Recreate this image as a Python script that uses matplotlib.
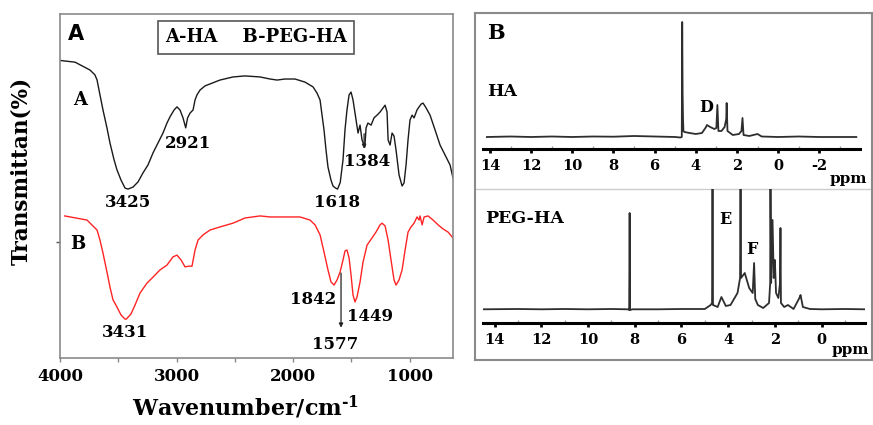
import matplotlib
matplotlib.use("Agg")
import matplotlib.pyplot as plt
from matplotlib.ticker import MultipleLocator

plt.rcParams['font.family'] = ['DejaVu Serif']
plt.rcParams['font.weight'] = 'bold'
plt.rcParams['mathtext.fontset'] = 'dejavuserif'

# FTIR spectra (wavenumber, transmittance in arbitrary offset units)
ha_wn = [4000, 3871, 3742, 3700, 3682, 3657, 3631, 3597, 3571, 3536, 3511, 3476,
         3442, 3416, 3373, 3330, 3288, 3245, 3202, 3159, 3116, 3082, 3056, 3021,
         2996, 2970, 2944, 2921, 2905, 2884, 2858, 2841, 2824, 2798, 2755, 2695,
         2627, 2515, 2412, 2283, 2197, 2137, 2069, 1983, 1897, 1828, 1794, 1768,
         1751, 1734, 1717, 1700, 1674, 1657, 1635, 1618, 1595, 1571, 1554, 1537,
         1519, 1502, 1485, 1459, 1442, 1425, 1408, 1384, 1373, 1357, 1330, 1305,
         1279, 1253, 1227, 1210, 1193, 1184, 1167, 1150, 1133, 1116, 1090, 1064,
         1047, 1030, 1013, 996, 978, 961, 936, 918, 901, 884, 858, 824, 781, 738,
         695, 652, 627]
ha_t = [86.5, 86.0, 83.7, 82.3, 80.8, 76.5, 72.1, 66.9, 62.5, 57.6, 54.7, 51.7,
        49.4, 49.1, 49.7, 51.2, 53.8, 56.1, 59.6, 62.5, 65.4, 68.3, 70.1, 72.1,
        73.0, 72.1, 69.8, 66.9, 69.8, 71.2, 72.1, 75.0, 76.5, 77.9, 79.1, 79.9,
        80.8, 81.7, 82.0, 81.7, 81.1, 80.8, 81.1, 81.1, 80.2, 78.8, 77.0, 75.0,
        70.6, 66.3, 60.5, 55.5, 51.7, 50.0, 49.4, 49.1, 51.0, 57.6, 66.3, 72.1,
        76.5, 77.3, 75.0, 69.2, 65.4, 67.7, 63.4, 61.3, 66.9, 68.3, 67.7, 69.8,
        70.6, 71.5, 72.7, 73.5, 71.5, 63.4, 61.9, 65.4, 64.5, 60.5, 53.2, 50.0,
        50.9, 56.1, 63.4, 69.2, 70.6, 69.8, 72.1, 73.0, 73.8, 74.1, 72.7, 70.6,
        66.3, 61.9, 59.0, 56.1, 52.3]

peg_wn = [3960, 3768, 3682, 3657, 3631, 3597, 3571, 3545, 3511, 3476, 3442, 3431,
          3391, 3356, 3313, 3253, 3202, 3142, 3082, 3030, 2996, 2961, 2927, 2893,
          2867, 2841, 2815, 2772, 2712, 2627, 2515, 2412, 2283, 2197, 2069, 1940,
          1854, 1811, 1768, 1734, 1700, 1674, 1648, 1622, 1596, 1571, 1554, 1537,
          1519, 1502, 1485, 1468, 1451, 1425, 1399, 1365, 1322, 1288, 1253, 1236,
          1210, 1184, 1159, 1133, 1116, 1090, 1064, 1038, 1013, 987, 961, 936,
          918, 910, 892, 875, 841, 798, 755, 712, 669, 627]
peg_t = [41.3, 40.1, 37.2, 34.3, 30.5, 25.0, 20.6, 16.9, 14.8, 12.5, 11.3, 11.3,
         12.8, 15.4, 18.9, 21.8, 23.5, 25.6, 27.0, 29.4, 29.9, 28.5, 26.5, 26.7,
         26.7, 31.4, 34.3, 35.8, 37.2, 38.1, 39.2, 40.7, 41.3, 41.0, 41.0, 41.0,
         40.1, 38.7, 35.8, 30.8, 25.6, 22.1, 21.2, 22.7, 25.0, 28.5, 31.1, 31.4,
         29.1, 24.1, 18.3, 16.3, 17.7, 22.1, 27.9, 32.8, 34.9, 36.6, 38.7, 39.2,
         38.4, 34.3, 28.5, 22.7, 21.2, 22.7, 25.6, 31.4, 36.6, 38.1, 39.2, 41.0,
         40.1, 41.3, 38.7, 41.0, 41.3, 40.1, 38.7, 37.5, 36.6, 34.9]

# peak labels: text, x, y
ha_peaks = [("3425", 3416, 45.1), ("2921", 2901, 62.5), ("1618", 1622, 45.1), ("1384", 1365, 57.0)]
peg_peaks = [("3431", 3442, 7.3), ("1842", 1828, 16.9), ("1449", 1339, 12.2), ("1577", 1639, 3.8)]

# 1H NMR spectra (ppm, intensity)
ha_ppm = [14.15, 13.0, 12.0, 11.0, 10.0, 9.0, 8.0, 7.0, 6.0, 5.0, 4.75, 4.68, 4.66,
          4.64, 4.62, 4.60, 4.55, 4.3, 4.0, 3.7, 3.5, 3.46, 3.3, 3.1, 3.0, 2.95, 2.9,
          2.75, 2.6, 2.52, 2.5, 2.46, 2.2, 1.9, 1.78, 1.73, 1.68, 1.4, 1.0, 0.8,
          0.0, -1.0, -2.0, -3.0, -3.8]
ha_int = [12, 12.5, 12, 12.5, 12, 12.5, 12.3, 13, 12.5, 12, 11.5, 12, 127,
          56, 30, 18, 17, 16, 15, 16, 22, 24, 22, 20, 21, 44, 18,
          18, 22, 30, 46, 18, 14, 15, 18, 31, 14, 13, 15, 12.5,
          12, 12.5, 12, 12, 12]

peg_ppm = [14.5, 13.0, 12.0, 11.0, 10.0, 9.0, 8.3, 8.24, 8.22, 8.20, 8.1, 7.0, 6.0,
           5.0, 4.75, 4.69, 4.67, 4.65, 4.45, 4.29, 4.1, 3.9, 3.6, 3.49, 3.47, 3.45,
           3.29, 3.1, 2.95, 2.89, 2.84, 2.73, 2.5, 2.25, 2.2, 2.19, 2.16, 2.1, 2.05,
           2.0, 1.95, 1.85, 1.78, 1.76, 1.74, 1.6, 1.44, 1.2, 0.95, 0.9, 0.8, 0.5,
           0.0, -1.0, -1.86]
peg_int = [13.7, 14, 13.7, 14, 13.7, 14, 13.7, 13, 110, 13, 13.7, 13.7, 14,
           14, 18, 20, 160, 18, 16, 26, 17, 18, 30, 45, 160, 45,
           50, 35, 30, 60, 24, 18, 15, 20, 40, 160, 40, 103, 45,
           63, 30, 25, 40, 95, 20, 16, 18, 14, 25, 28, 16, 14,
           13.7, 14, 13.7]

W, H = 873, 425
fig = plt.figure(figsize=(W / 100, H / 100), dpi=100)

# ---------- panel A: FTIR ----------
ax = fig.add_axes([60 / W, 67 / H, 393 / W, 344 / H])
ax.plot(ha_wn, ha_t, color='#1a1a1a', lw=1.0)
ax.plot(peg_wn, peg_t, color='#ff2424', lw=1.0)
ax.set_xlim(4000, 627)
ax.set_ylim(0, 100)
ax.xaxis.set_major_locator(MultipleLocator(1000))
ax.xaxis.set_minor_locator(MultipleLocator(500))
ax.set_yticks([33.7])
ax.set_yticklabels([])
ax.tick_params(axis='x', which='both', direction='out', length=3, width=1,
               color='#888888', labelsize=12, pad=4)
ax.tick_params(axis='y', direction='out', length=3, width=1, color='#555555')
for sp in ax.spines.values():
    sp.set_color('#8a8a8a')
    sp.set_linewidth(1.2)
for lab in ax.get_xticklabels():
    lab.set_fontweight('bold')

ax.set_xlabel('Wavenumber/cm$^{\\text{-}\\mathbf{1}}$', fontsize=16, fontweight='bold')
ax.xaxis.set_label_coords(0.471, -0.105)
ax.set_ylabel('Transmittan(%)', fontsize=15.5, fontweight='bold')
ax.yaxis.set_label_coords(-0.07, 0.544)

for txt, x, y in ha_peaks + peg_peaks:
    ax.text(x, y, txt, fontsize=12, fontweight='bold', ha='center', va='center')
ax.annotate('', xy=(1588, 8.0), xytext=(1588, 25.5),
            arrowprops=dict(arrowstyle='-|>', color='#222222', lw=0.9,
                            mutation_scale=6))
ax.annotate('', xy=(1390, 60.0), xytext=(1390, 66.0),
            arrowprops=dict(arrowstyle='-|>', color='#222222', lw=0.9,
                            mutation_scale=6))
ax.text(3828, 75.0, 'A', fontsize=13, fontweight='bold', ha='center', va='center')
ax.text(3845, 33.1, 'B', fontsize=13, fontweight='bold', ha='center', va='center')
ax.text(0.041, 0.942, 'A', transform=ax.transAxes, fontsize=15, fontweight='bold',
        family='DejaVu Sans', ha='center', va='center')
ax.text(0.499, 0.932, 'A-HA    B-PEG-HA', transform=ax.transAxes, fontsize=13,
        fontweight='bold', ha='center', va='center',
        bbox=dict(boxstyle='square,pad=0.4', fc='white', ec='#555555', lw=1.2))

# ---------- panel B: NMR ----------
bg = fig.add_axes([475 / W, 65 / H, 397 / W, 347 / H])
bg.set_xticks([])
bg.set_yticks([])
for sp in bg.spines.values():
    sp.set_color('#8a8a8a')
    sp.set_linewidth(1.5)
bg.axhline((360 - 189) / 347, color='#cccccc', lw=1.0)
bg.text(12 / 397, (360 - 33) / 347, 'B', transform=bg.transAxes, fontsize=15,
        fontweight='bold', ha='left', va='center')


def nmr_axes(rect, ppm, inten, xlim, ticks, top):
    a = fig.add_axes(rect, facecolor='none')
    a.plot(ppm, inten, color='#2e2e2e', lw=1.3)
    a.set_xlim(*xlim)
    a.set_ylim(0, top)
    for s in ('top', 'left', 'right'):
        a.spines[s].set_visible(False)
    a.spines['bottom'].set_linewidth(2.2)
    a.set_yticks([])
    a.set_xticks(ticks)
    a.set_xticklabels([f'{t:d}' for t in ticks])
    a.xaxis.set_minor_locator(MultipleLocator(1))
    a.tick_params(axis='x', which='major', direction='out', length=3, width=2,
                  labelsize=10.5, pad=4)
    a.tick_params(axis='x', which='minor', direction='in', length=2, width=1,
                  color='#999999')
    for lab in a.get_xticklabels():
        lab.set_fontweight('bold')
    return a


ax1 = nmr_axes([483 / W, (H - 149) / H, 377 / W, 133 / H], ha_ppm, ha_int,
               (14.34, -3.98), list(range(14, -3, -2)), 133)
ax1.text(0.968, -0.225, 'ppm', transform=ax1.transAxes, fontsize=11,
         fontweight='bold', ha='center', va='center')
ax1.text(0.012, 0.43, 'HA', transform=ax1.transAxes, fontsize=12.5,
         fontweight='bold', ha='left', va='center')
ax1.text(3.5, 42, 'D', fontsize=11.5, fontweight='bold', ha='center', va='center')

ax2 = nmr_axes([483 / W, (H - 323) / H, 382 / W, 134 / H], peg_ppm, peg_int,
               (14.5, -1.86), list(range(14, -1, -2)), 134)
ax2.text(0.961, -0.2, 'ppm', transform=ax2.transAxes, fontsize=11,
         fontweight='bold', ha='center', va='center')
ax2.text(0.005, 0.78, 'PEG-HA', transform=ax2.transAxes, fontsize=12.5,
         fontweight='bold', ha='left', va='center')
ax2.text(4.11, 104, 'E', fontsize=11.5, fontweight='bold', ha='center', va='center')
ax2.text(3.0, 73, 'F', fontsize=11.5, fontweight='bold', ha='center', va='center')

fig.savefig('out.png', dpi=100)
